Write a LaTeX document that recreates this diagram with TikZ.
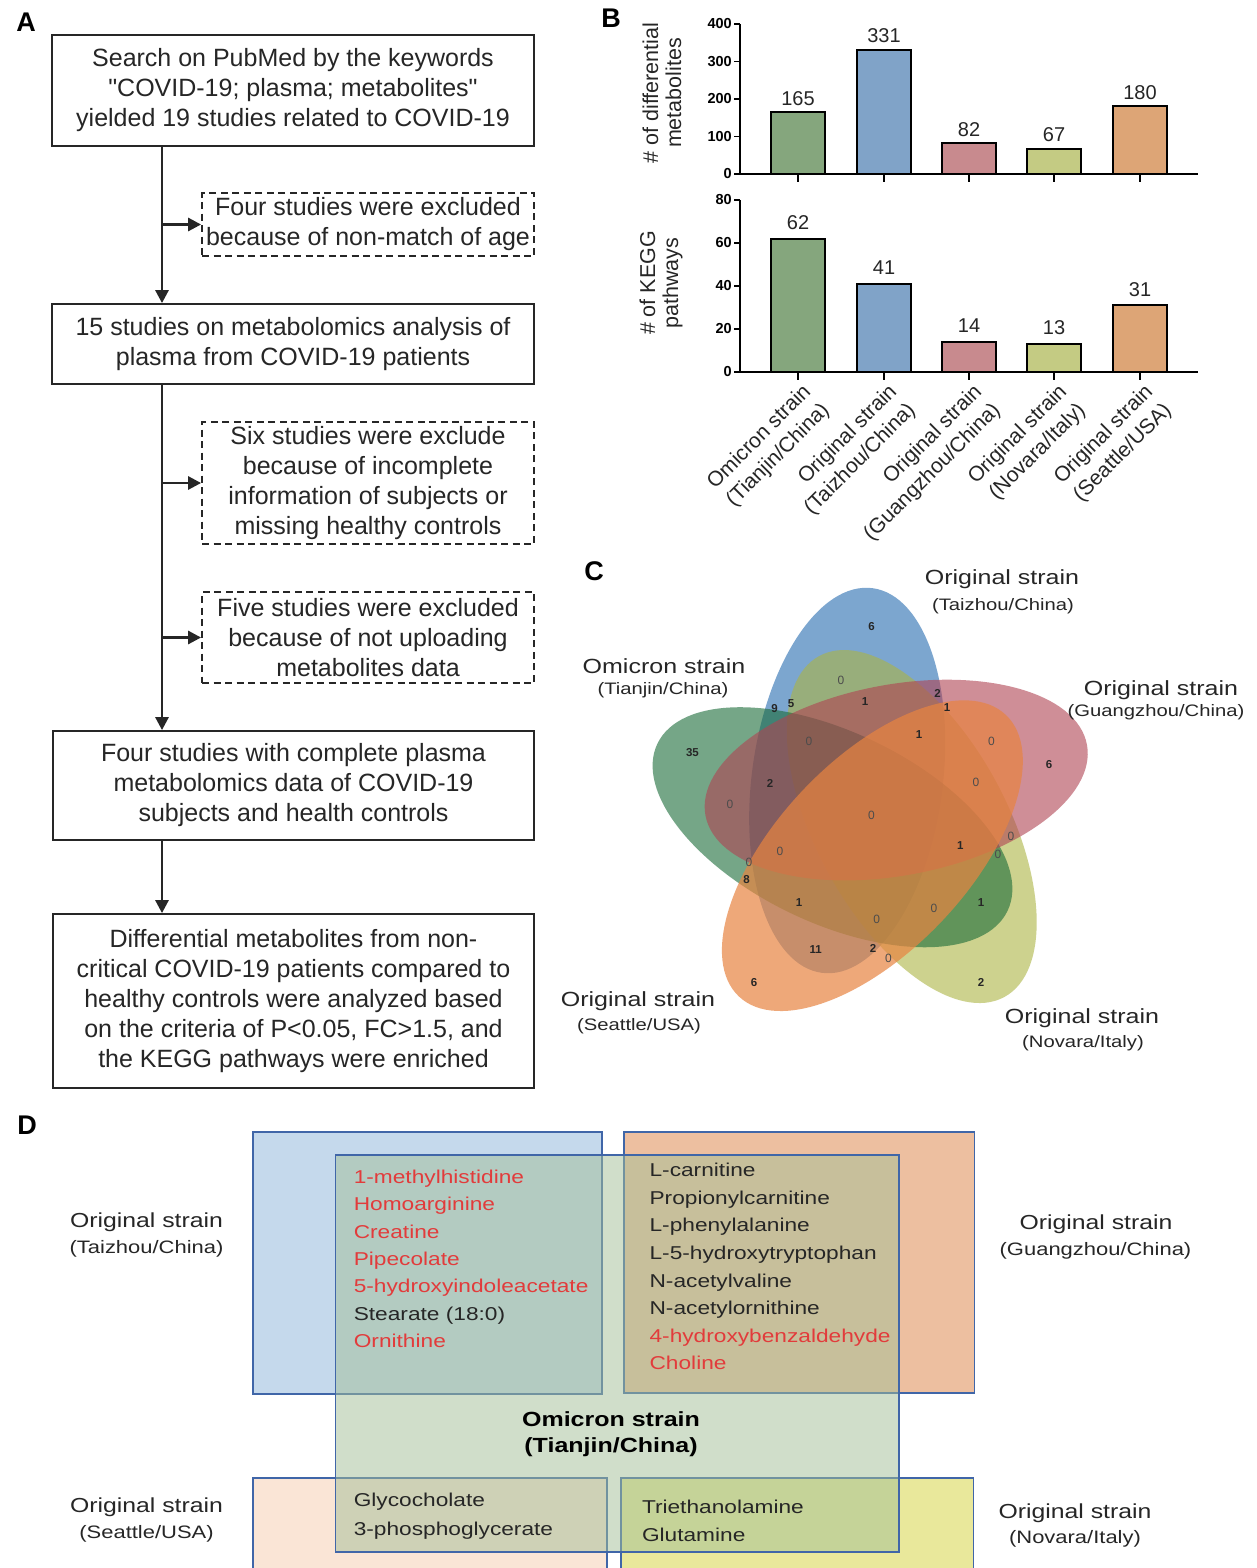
\documentclass[tikz,border=0pt]{standalone}
\usepackage{fontspec}
\setmainfont{Liberation Sans}[Ligatures=TeXOff]
\newfontfamily\widesans[FakeStretch=1.22]{Liberation Sans}
\usetikzlibrary{arrows.meta,positioning}

\definecolor{ink}{HTML}{262626}
\definecolor{barGreen}{HTML}{85A67D}
\definecolor{barBlue}{HTML}{80A3C8}
\definecolor{barPink}{HTML}{C88A8E}
\definecolor{barLime}{HTML}{C4CB83}
\definecolor{barOrange}{HTML}{DDA576}
\definecolor{vennBlue}{HTML}{256BAF}
\definecolor{vennGreen}{HTML}{1A6B38}
\definecolor{vennPink}{HTML}{B04352}
\definecolor{vennOrange}{HTML}{E88441}
\definecolor{vennLime}{HTML}{ACB444}
\definecolor{boxBlue}{HTML}{C5D9EC}
\definecolor{boxOrange}{HTML}{EDBFA0}
\definecolor{boxPeach}{HTML}{FAE5D6}
\definecolor{boxYellow}{HTML}{E9E89B}
\definecolor{boxGreen}{HTML}{A3BF97}
\definecolor{boxEdge}{HTML}{4066A8}
\definecolor{hitRed}{HTML}{E23B3B}

\tikzset{
  panel/.style={font=\bfseries\fontsize{27}{27}\selectfont, inner sep=0pt},
  flowbox/.style={draw=ink, line width=1.8pt, align=center, inner sep=0pt, text=ink,
    font=\fontsize{25}{30}\selectfont},
  dashbox/.style={flowbox, dash pattern=on 7pt off 4.5pt},
  flowarrow/.style={draw=ink, line width=2.8pt, -{Triangle[length=13pt,width=13pt]}},
  axisline/.style={draw=black, line width=2.4pt},
  barbox/.style={draw=black, line width=2pt},
  ticklab/.style={font=\bfseries\fontsize{14.5}{14.5}\selectfont, inner sep=0pt, anchor=east},
  vallab/.style={font=\fontsize{20}{20}\selectfont, text=ink, inner sep=0pt},
  axislab/.style={font=\fontsize{21.5}{23}\selectfont, text=ink, align=center, rotate=90, inner sep=0pt},
  strainlab/.style={font=\fontsize{21}{26}\selectfont, text=ink, align=right, rotate=45,
    anchor=north east, inner sep=0pt},
  venntitle/.style={font=\widesans\fontsize{20.5}{24}\selectfont, text=ink, inner sep=0pt},
  vennsub/.style={font=\widesans\fontsize{16.6}{20}\selectfont, text=ink, inner sep=0pt},
  vnum/.style={font=\bfseries\fontsize{11.5}{11.5}\selectfont, text=black!85, inner sep=0pt},
  vzero/.style={font=\fontsize{12}{12}\selectfont, text=black!70, inner sep=0pt},
  leaf/.style={fill opacity=0.6},
  setbox/.style={draw=boxEdge, line width=1.6pt},
  listtxt/.style={font=\widesans\fontsize{18.6}{22}\selectfont, inner sep=0pt, anchor=base west},
  dtitle/.style={font=\widesans\fontsize{20.3}{24}\selectfont, text=ink, inner sep=0pt},
  dsub/.style={font=\widesans\fontsize{18}{22}\selectfont, text=ink, inner sep=0pt},
  dcenter/.style={font=\widesans\bfseries\fontsize{20.5}{24}\selectfont, text=black, inner sep=0pt},
}

\begin{document}
\begin{tikzpicture}[x=1pt,y=-1pt]
\path[use as bounding box, fill=white] (0,0) rectangle (1256,1568);

% ---------- A: flow chart
\node[panel] (lblA) at (26,22.5) {A};
\node[flowbox, minimum width=482pt, minimum height=111pt] (b1) at (293,90.5)
  {Search on PubMed by the keywords\\"COVID-19; plasma; metabolites"\\yielded 19 studies related to COVID-19};
\node[dashbox, minimum width=332pt, minimum height=63pt] (x1) at (368,224.5)
  {Four studies were excluded\\because of non-match of age};
\node[flowbox, minimum width=482pt, minimum height=80pt] (b2) at (293,344)
  {15 studies on metabolomics analysis of\\plasma from COVID-19 patients};
\node[dashbox, minimum width=332pt, minimum height=122pt] (x2) at (368,483)
  {Six studies were exclude\\because of incomplete\\information of subjects or\\missing healthy controls};
\node[dashbox, minimum width=332pt, minimum height=91pt] (x3) at (368,637.5)
  {Five studies were excluded\\because of not uploading\\metabolites data};
\node[flowbox, minimum width=481pt, minimum height=109pt] (b3) at (293.5,785.5)
  {Four studies with complete plasma\\metabolomics data of COVID-19\\subjects and health controls};
\node[flowbox, minimum width=481pt, minimum height=174pt] (b4) at (293.5,1001)
  {Differential metabolites from non-\\critical COVID-19 patients compared to\\healthy controls were analyzed based\\on the criteria of P<0.05, FC>1.5, and\\the KEGG pathways were enriched};

\coordinate (trunk) at (162,0);
\draw[flowarrow] (b1.south -| trunk) -- (b2.north -| trunk);
\draw[flowarrow] (b2.south -| trunk) -- (b3.north -| trunk);
\draw[flowarrow] (b3.south -| trunk) -- (b4.north -| trunk);
\foreach \x in {x1,x2,x3}
  \draw[flowarrow] (\x.west -| trunk) -- (\x.west);

% ---------- B: bar charts
\node[panel] (lblB) at (611,18) {B};
% upper chart
\draw[axisline] (740,24) -- (740,174) -- (1198,174);
\foreach \v [count=\i] in {0,100,200,300,400} {
  \draw[axisline, line width=1.8pt] (734,{174-0.375*\v}) -- (740,{174-0.375*\v});
  \node[ticklab] (tu\i) at (732,{174-0.375*\v}) {\v};
}
\foreach \c/\v/\col [count=\i] in {798/165/barGreen, 884/331/barBlue, 969/82/barPink, 1054/67/barLime, 1140/180/barOrange} {
  \draw[barbox, fill=\col] (\c-27,174) rectangle (\c+27,{174-0.375*\v});
  \draw[axisline] (\c,174) -- (\c,182);
  \node[vallab] (du\i) at (\c,{174-0.375*\v-14}) {\v};
}
\node[axislab] (ylu) at (662,93) {\# of differential\\metabolites};
% lower chart
\draw[axisline] (740,200) -- (740,372) -- (1198,372);
\foreach \v [count=\i] in {0,20,40,60,80} {
  \draw[axisline, line width=1.8pt] (734,{372-2.15*\v}) -- (740,{372-2.15*\v});
  \node[ticklab] (tl\i) at (732,{372-2.15*\v}) {\v};
}
\foreach \c/\v/\col [count=\i] in {798/62/barGreen, 884/41/barBlue, 969/14/barPink, 1054/13/barLime, 1140/31/barOrange} {
  \draw[barbox, fill=\col] (\c-27,372) rectangle (\c+27,{372-2.15*\v});
  \draw[axisline] (\c,372) -- (\c,380);
  \node[vallab] (dl\i) at (\c,{372-2.15*\v-16}) {\v};
}
\node[axislab] (yll) at (661,283) {\# of KEGG\\pathways};
\foreach \c/\lab [count=\i] in {798/{Omicron strain\\(Tianjin/China)}, 884/{Original strain\\(Taizhou/China)},
    969/{Original strain\\(Guangzhou/China)}, 1054/{Original strain\\(Novara/Italy)}, 1140/{Original strain\\(Seattle/USA)}}
  \node[strainlab] (xl\i) at (\c+3,382) {\lab};

% ---------- C: five-set Venn
\node[panel] (lblC) at (594,571) {C};
\coordinate (vO) at (872,814);
\foreach \ang/\col/\op in {0/vennBlue/0.6, -144/vennLime/0.6, 72/vennGreen/0.6, -72/vennPink/0.6, 144/vennOrange/0.7} {
  \begin{scope}[shift={(vO)}, rotate=\ang]
    \begin{scope}[shift={(-24.8,-33.5)}, rotate=-7.5]
      \fill[leaf, fill=\col, fill opacity=\op] (0,0) ellipse [x radius=95.5pt, y radius=194pt];
    \end{scope}
  \end{scope}
}
\foreach \x/\y/\n [count=\i] in {871.5/626.7/6, 937.5/693/2, 947/707.7/1, 774.5/709/9, 791/704/5,
    865/701.7/1, 919/735/1, 692.4/752.3/35, 1049/765/6, 770/783.3/2, 960.4/846/1, 746.5/880/8,
    799/903/1, 981/903/1, 815.8/950/11, 873/948/2, 754/982.7/6, 981/982.7/2}
  \node[vnum] (vn\i) at (\x,\y) {\n};
\foreach \x/\y [count=\i] in {841/680, 809/741.7, 991.5/741.7, 976/782.7, 730/804, 871.5/815,
    1011/836.7, 998/854, 780/851.7, 749/862.7, 934/908, 876.6/919, 888.4/958}
  \node[vzero] (vz\i) at (\x,\y) {0};
\node[venntitle] (vTzA) at (1002,579) {Original strain};
\node[vennsub] (vTzB) at (1003,606) {(Taizhou/China)};
\node[venntitle] (vTjA) at (664,666) {Omicron strain};
\node[vennsub] (vTjB) at (663,690) {(Tianjin/China)};
\node[venntitle] (vGzA) at (1161,690) {Original strain};
\node[vennsub] (vGzB) at (1156,712) {(Guangzhou/China)};
\node[venntitle] (vStA) at (638,1001) {Original strain};
\node[vennsub] (vStB) at (639,1026) {(Seattle/USA)};
\node[venntitle] (vNvA) at (1082,1018) {Original strain};
\node[vennsub] (vNvB) at (1083,1043) {(Novara/Italy)};

% ---------- D: shared metabolites
\node[panel] (lblD) at (27,1125) {D};
\begin{scope}
  \clip (0,1100) rectangle (1256,1568);
  \draw[setbox, fill=boxBlue] (253,1131.7) rectangle (602,1394);
  \draw[setbox, fill=boxOrange] (624,1131.7) rectangle (974.5,1393);
  \draw[setbox, fill=boxPeach] (253,1478) rectangle (607,1600);
  \draw[setbox, fill=boxYellow] (621,1478) rectangle (973.6,1600);
  \fill[boxGreen, fill opacity=0.5] (335.5,1155) rectangle (899,1552);
  \draw[setbox] (335.5,1155) rectangle (899,1552);
\end{scope}
\foreach \t/\c [count=\i from 0] in {1-methylhistidine/hitRed, Homoarginine/hitRed, Creatine/hitRed,
    Pipecolate/hitRed, 5-hydroxyindoleacetate/hitRed, Stearate (18:0)/ink, Ornithine/hitRed}
  \node[listtxt, text=\c] (tz\i) at (353.6,{1183.4+27.33*\i}) {\t};
\foreach \t/\c [count=\i from 0] in {L-carnitine/ink, Propionylcarnitine/ink, L-phenylalanine/ink,
    L-5-hydroxytryptophan/ink, N-acetylvaline/ink, N-acetylornithine/ink, 4-hydroxybenzaldehyde/hitRed, Choline/hitRed}
  \node[listtxt, text=\c] (gz\i) at (649.4,{1176.7+27.6*\i}) {\t};
\node[listtxt, text=ink] (st0) at (353.6,1506.7) {Glycocholate};
\node[listtxt, text=ink] (st1) at (353.6,1535) {3-phosphoglycerate};
\node[listtxt, text=ink] (nv0) at (641.8,1513.4) {Triethanolamine};
\node[listtxt, text=ink] (nv1) at (641.8,1541.7) {Glutamine};
\node[dcenter] (omA) at (611,1419) {Omicron strain};
\node[dcenter] (omB) at (611,1447) {(Tianjin/China)};
\node[dtitle] (dTzA) at (146.5,1222) {Original strain};
\node[dsub] (dTzB) at (146.5,1249) {(Taizhou/China)};
\node[dtitle] (dGzA) at (1096,1224) {Original strain};
\node[dsub] (dGzB) at (1095.5,1251) {(Guangzhou/China)};
\node[dtitle] (dStA) at (146.5,1507) {Original strain};
\node[dsub] (dStB) at (146.5,1534) {(Seattle/USA)};
\node[dtitle] (dNvA) at (1075,1513) {Original strain};
\node[dsub] (dNvB) at (1075,1539) {(Novara/Italy)};
\end{tikzpicture}
\end{document}
